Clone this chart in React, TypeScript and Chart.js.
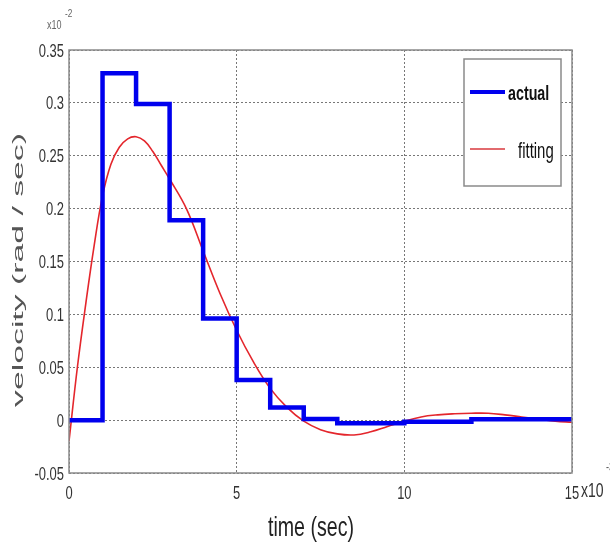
import React, { useEffect, useRef } from "react";
import { Chart, registerables } from "chart.js";

Chart.register(...registerables);

// Step times and measured velocity (x10^-2 rad/sec), value held until next time
const actualTimes = [0, 1, 2, 3, 4, 5, 6, 7, 8, 9, 10, 11, 12, 13, 14, 15];
const actualValues = [0, 0.328, 0.299, 0.189, 0.096, 0.038, 0.012, 0.001, -0.003, -0.003, -0.0015, -0.0015, 0.0008, 0.0008, 0.0008, 0.0008];

// Fitted curve samples
const fitTimes = [0, 0.25, 0.5, 0.75, 1, 1.25, 1.5, 1.75, 2, 2.25, 2.5, 2.75, 3, 3.5, 4, 4.5, 5, 5.5, 6, 6.5, 7, 7.5, 8, 8.5, 9, 9.5, 10, 10.5, 11, 11.5, 12, 12.5, 13, 13.5, 14, 14.5, 15];
const fitValues = [-0.02, 0.05, 0.11, 0.165, 0.212, 0.242, 0.258, 0.266, 0.268, 0.264, 0.254, 0.241, 0.228, 0.2, 0.16, 0.12, 0.085, 0.055, 0.03, 0.012, -0.001, -0.009, -0.013, -0.014, -0.011, -0.006, -0.001, 0.003, 0.005, 0.006, 0.0065, 0.0065, 0.005, 0.003, 0.001, -0.001, -0.002];

const xTicks = [0, 5, 10, 15];
const yMin = -0.05;
const yMax = 0.35;
const yStep = 0.05;
const legendLabels = ["actual", "fitting"];
const xTitle = "time (sec)";
const yTitle = "velocity (rad / sec)";

const FONT = '"Liberation Sans", Arial, sans-serif';

function drawText(
  ctx: CanvasRenderingContext2D,
  text: string,
  x: number,
  y: number,
  size: number,
  sx: number,
  rot: number,
  align: CanvasTextAlign,
  color: string,
  weight = "normal",
  baseline: CanvasTextBaseline = "alphabetic"
) {
  ctx.save();
  ctx.translate(x, y);
  ctx.rotate(rot);
  ctx.scale(sx, 1);
  ctx.font = `${weight} ${size}px ${FONT}`;
  ctx.textAlign = align;
  ctx.textBaseline = baseline;
  ctx.fillStyle = color;
  ctx.fillText(text, 0, 0);
  ctx.restore();
}

const fmt = (v: number) => String(Number(v.toFixed(2)));

const overlayPlugin = {
  id: "overlay",
  afterDraw(chart: any) {
    const { ctx, chartArea, scales } = chart;
    const { left, right, top, bottom } = chartArea;
    ctx.save();
    // axes box
    ctx.strokeStyle = "#8a8a8a";
    ctx.lineWidth = 1.5;
    ctx.setLineDash([]);
    ctx.strokeRect(left, top, right - left, bottom - top);

    // tick labels via scales
    scales.y.ticks.forEach((t: any) => {
      const py = scales.y.getPixelForValue(t.value);
      drawText(ctx, fmt(t.value), 64, py + 6.5, 18, 0.72, 0, "right", "#333");
    });
    scales.x.ticks.forEach((t: any) => {
      const px = scales.x.getPixelForValue(t.value);
      drawText(ctx, fmt(t.value), px, 499, 19, 0.68, 0, "center", "#333");
    });

    // legend
    const lx = 464, ly = 59, lw = 97, lh = 127;
    ctx.fillStyle = "#ffffff";
    ctx.fillRect(lx, ly, lw, lh);
    ctx.strokeStyle = "#8a8a8a";
    ctx.lineWidth = 1.5;
    ctx.strokeRect(lx, ly, lw, lh);
    ctx.lineCap = "butt";
    ctx.strokeStyle = "#0000ee";
    ctx.lineWidth = 4;
    ctx.beginPath();
    ctx.moveTo(470, 92);
    ctx.lineTo(505, 92);
    ctx.stroke();
    ctx.strokeStyle = "#e26a6e";
    ctx.lineWidth = 2;
    ctx.beginPath();
    ctx.moveTo(470, 149);
    ctx.lineTo(505, 149);
    ctx.stroke();
    drawText(ctx, legendLabels[0], 508, 100, 21, 0.68, 0, "left", "#111", "bold");
    drawText(ctx, legendLabels[1], 518, 158, 22, 0.68, 0, "left", "#111");

    // titles
    drawText(ctx, xTitle, 311, 536, 28, 0.7, 0, "center", "#222");
    drawText(ctx, yTitle, 19, 270, 15, 2.25, -Math.PI / 2, "center", "#555", "normal", "middle");

    // exponent labels
    drawText(ctx, "x10", 47, 29, 12, 0.75, 0, "left", "#666");
    drawText(ctx, "-2", 65, 17, 11, 0.75, 0, "left", "#666");
    drawText(ctx, "x10", 581, 497, 20, 0.7, 0, "left", "#333");
    drawText(ctx, "-3", 606, 471, 13, 0.7, 0, "left", "#555");
    ctx.restore();
  },
};

export default function App() {
  const ref = useRef<HTMLCanvasElement | null>(null);
  useEffect(() => {
    document.body.style.margin = "0";
    const canvas = ref.current!;
    const chart = new Chart(canvas, {
      type: "line",
      data: {
        datasets: [
          {
            label: legendLabels[0],
            data: actualTimes.map((t, i) => ({ x: t, y: actualValues[i] })),
            borderColor: "#0000ee",
            borderWidth: 4.5,
            stepped: "before",
            pointRadius: 0,
            fill: false,
          },
          {
            label: legendLabels[1],
            data: fitTimes.map((t, i) => ({ x: t, y: fitValues[i] })),
            borderColor: "#e4262c",
            borderWidth: 1.6,
            tension: 0.4,
            pointRadius: 0,
            fill: false,
          },
        ],
      },
      options: {
        animation: false,
        responsive: false,
        devicePixelRatio: 1,
        layout: { padding: { left: 0, right: 38, top: 50, bottom: 0 } },
        plugins: { legend: { display: false }, tooltip: { enabled: false } },
        scales: {
          x: {
            type: "linear",
            min: 0,
            max: 15,
            afterBuildTicks: (s: any) => {
              s.ticks = xTicks.map((v) => ({ value: v }));
            },
            afterFit: (s: any) => {
              s.height = 71;
            },
            grid: { color: "#777", lineWidth: 1, drawTicks: false },
            border: { display: false, dash: [2, 2] },
            ticks: { color: "rgba(0,0,0,0)", maxRotation: 0 },
          },
          y: {
            type: "linear",
            min: yMin,
            max: yMax,
            afterFit: (s: any) => {
              s.width = 69;
            },
            grid: { color: "#777", lineWidth: 1, drawTicks: false },
            border: { display: false, dash: [2, 2] },
            ticks: { stepSize: yStep, color: "rgba(0,0,0,0)" },
          },
        },
      },
      plugins: [overlayPlugin],
    } as any);
    return () => chart.destroy();
  }, []);
  return (
    <div style={{ position: "absolute", left: 0, top: 0, width: 610, height: 544, background: "#fff" }}>
      <canvas ref={ref} width={610} height={544} style={{ width: 610, height: 544 }} />
    </div>
  );
}
